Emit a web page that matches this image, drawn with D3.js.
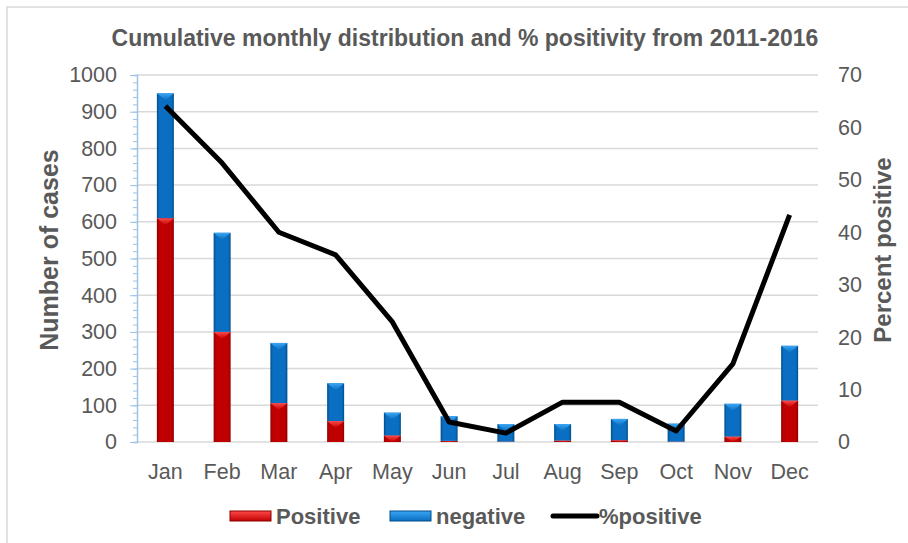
<!DOCTYPE html>
<html>
<head>
<meta charset="utf-8">
<script src="https://cdn.jsdelivr.net/npm/d3@7"></script>
<style>
body { margin: 0; background: #fff; }
text { font-family: "Liberation Sans", Arial, sans-serif; fill: #595959; }
</style>
</head>
<body>
<script>
var months = ["Jan", "Feb", "Mar", "Apr", "May", "Jun", "Jul", "Aug", "Sep", "Oct", "Nov", "Dec"];
var positive = [610, 300, 106, 57, 18, 3, 1, 4, 5, 1, 15, 113];
var negative = [340, 270, 164, 103, 62, 67, 48, 45, 58, 49, 89, 149];
var pctPositive = [64.1, 53.2, 40, 35.7, 22.9, 3.8, 1.7, 7.6, 7.6, 2.1, 14.9, 43.3];
var leftTicks = [0, 100, 200, 300, 400, 500, 600, 700, 800, 900, 1000];
var rightTicks = [0, 10, 20, 30, 40, 50, 60, 70];

var w = 908, h = 543;
var plotL = 137, plotR = 818, plotT = 75, plotB = 442;
var font = "'Liberation Sans', Arial, sans-serif";

var svg = d3.select("body").append("svg")
    .attr("width", w)
    .attr("height", h);

var defs = svg.append("defs");
function barGrad(id, dark, mid, light) {
    var g = defs.append("linearGradient").attr("id", id)
        .attr("x1", "0").attr("x2", "1").attr("y1", "0").attr("y2", "0");
    g.append("stop").attr("offset", "0%").attr("stop-color", dark);
    g.append("stop").attr("offset", "15%").attr("stop-color", mid);
    g.append("stop").attr("offset", "85%").attr("stop-color", mid);
    g.append("stop").attr("offset", "100%").attr("stop-color", dark);
    var t = defs.append("linearGradient").attr("id", id + "Top")
        .attr("x1", "0").attr("x2", "0").attr("y1", "0").attr("y2", "1");
    t.append("stop").attr("offset", "0%").attr("stop-color", light);
    t.append("stop").attr("offset", "100%").attr("stop-color", mid);
}
barGrad("gRed", "#8e0000", "#c00000", "#ff4a4a");
barGrad("gBlue", "#004f8c", "#0a6fc2", "#3aa6f2");

// chart border
svg.append("rect")
    .attr("x", 7).attr("y", 7)
    .attr("width", w).attr("height", h)
    .attr("fill", "none")
    .attr("stroke", "#d9d9d9")
    .attr("stroke-width", 1.5);

var x = d3.scaleBand().domain(months).range([plotL, plotR]);
var y = d3.scaleLinear().domain([0, 1000]).range([plotB, plotT]);
var y2 = d3.scaleLinear().domain([0, 70]).range([plotB, plotT]);

// grid
svg.append("g")
    .selectAll("line")
    .data(leftTicks)
    .enter()
    .append("line")
    .attr("x1", plotL).attr("x2", plotR)
    .attr("y1", function(d) { return y(d); })
    .attr("y2", function(d) { return y(d); })
    .attr("stroke", "#d9d9d9")
    .attr("stroke-width", 1.5);

function styleText(g) {
    g.selectAll(".tick text").attr("font-size", 21.5).attr("fill", "#595959")
        .style("font-family", font);
}

// left axis
var minor = d3.range(0, 1001, 20);
svg.append("g")
    .attr("transform", "translate(" + plotL + ",0)")
    .call(d3.axisLeft(y).tickValues(minor).tickSize(4).tickFormat(""))
    .call(function(g) {
        g.select(".domain").attr("stroke", "#9dc3e6").attr("stroke-width", 1.5);
        g.selectAll(".tick line").attr("stroke", "#9dc3e6");
    });
svg.append("g")
    .attr("transform", "translate(" + plotL + ",0)")
    .call(d3.axisLeft(y).tickValues(leftTicks).tickSize(7).tickPadding(13).tickFormat(d3.format("d")))
    .call(function(g) {
        g.select(".domain").remove();
        g.selectAll(".tick line").attr("stroke", "#9dc3e6");
    })
    .call(styleText);

// right axis
svg.append("g")
    .attr("transform", "translate(" + plotR + ",0)")
    .call(d3.axisRight(y2).tickValues(rightTicks).tickSize(0).tickPadding(20))
    .call(function(g) { g.select(".domain").remove(); })
    .call(styleText);

// bottom labels
svg.append("g")
    .attr("transform", "translate(0," + plotB + ")")
    .call(d3.axisBottom(x).tickSize(0).tickPadding(22))
    .call(function(g) { g.select(".domain").remove(); })
    .call(styleText);

// bars
var bw = 17;
var stacks = months.map(function(m, i) {
    return [
        { m: m, y0: 0, y1: positive[i], fill: "gRed" },
        { m: m, y0: positive[i], y1: positive[i] + negative[i], fill: "gBlue" }
    ];
});
var segs = [].concat.apply([], stacks);

var bars = svg.append("g").selectAll("g")
    .data(segs)
    .enter()
    .append("g");

bars.append("rect")
    .attr("x", function(d) { return x(d.m) + x.bandwidth() / 2 - bw / 2; })
    .attr("y", function(d) { return y(d.y1); })
    .attr("width", bw)
    .attr("height", function(d) { return y(d.y0) - y(d.y1); })
    .attr("fill", function(d) { return "url(#" + d.fill + ")"; });

bars.append("path")
    .attr("d", function(d) {
        var x0 = x(d.m) + x.bandwidth() / 2 - bw / 2;
        var yt = y(d.y1);
        var hh = Math.min(7, y(d.y0) - y(d.y1));
        return "M" + x0 + "," + yt + "L" + (x0 + bw) + "," + yt +
            "L" + (x0 + bw / 2) + "," + (yt + hh) + "Z";
    })
    .attr("fill", function(d) { return "url(#" + d.fill + "Top)"; });

// line
var line = d3.line()
    .x(function(d, i) { return x(months[i]) + x.bandwidth() / 2; })
    .y(function(d) { return y2(d); });

svg.append("path")
    .datum(pctPositive)
    .attr("d", line)
    .attr("fill", "none")
    .attr("stroke", "#000")
    .attr("stroke-width", 5)
    .attr("stroke-linejoin", "round");

// titles
svg.append("text")
    .attr("x", 465).attr("y", 46)
    .attr("text-anchor", "middle")
    .attr("font-size", 23)
    .attr("font-weight", "bold")
    .text("Cumulative monthly distribution and % positivity from 2011-2016");

svg.append("text")
    .attr("transform", "translate(58,250) rotate(-90)")
    .attr("text-anchor", "middle")
    .attr("font-size", 25)
    .attr("font-weight", "bold")
    .text("Number of cases");

svg.append("text")
    .attr("transform", "translate(891,250) rotate(-90)")
    .attr("text-anchor", "middle")
    .attr("font-size", 24)
    .attr("font-weight", "bold")
    .text("Percent positive");

// legend
var legend = [
    { label: "Positive", type: "bar", fill: "gRed", x: 230 },
    { label: "negative", type: "bar", fill: "gBlue", x: 390 },
    { label: "%positive", type: "line", x: 553 }
];
var lg = svg.append("g").selectAll("g")
    .data(legend)
    .enter()
    .append("g")
    .attr("transform", function(d) { return "translate(" + d.x + ",516)"; });

lg.filter(function(d) { return d.type == "bar"; })
    .append("rect")
    .attr("x", 0).attr("y", -5)
    .attr("width", 41).attr("height", 10)
    .attr("fill", function(d) { return "url(#" + d.fill + "Top)"; })
    .attr("stroke", function(d) { return d.fill == "gRed" ? "#8e0000" : "#004f8c"; })
    .attr("stroke-width", 1);

lg.filter(function(d) { return d.type == "line"; })
    .append("line")
    .attr("x1", 0).attr("x2", 44)
    .attr("y1", 0).attr("y2", 0)
    .attr("stroke", "#000")
    .attr("stroke-width", 5)
    .attr("stroke-linecap", "round");

lg.append("text")
    .attr("x", 46)
    .attr("y", 8)
    .attr("font-size", 22)
    .attr("font-weight", "bold")
    .text(function(d) { return d.label; });
</script>
</body>
</html>
